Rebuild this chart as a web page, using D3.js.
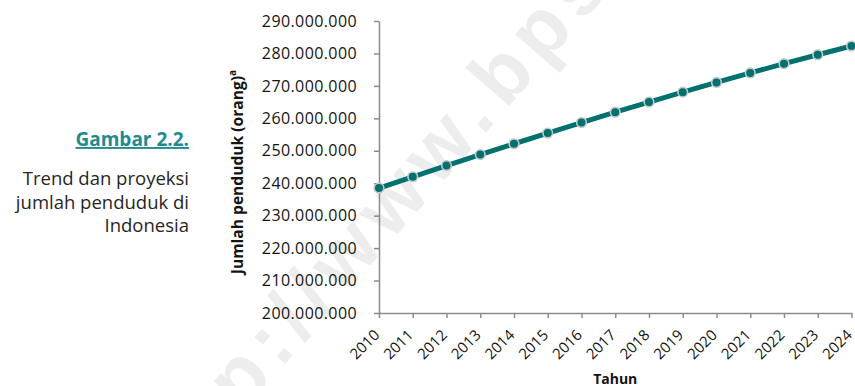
<!DOCTYPE html>
<html>
<head>
<meta charset="utf-8">
<script src="https://cdn.jsdelivr.net/npm/d3@7"></script>
<style>
  html, body { margin: 0; padding: 0; background: #fff; }
  svg { display: block; }
</style>
</head>
<body>
<svg id="chart" width="855" height="386"></svg>
<script>
// Population of Indonesia (people), 2010 census base and projection
const years = [2010, 2011, 2012, 2013, 2014, 2015, 2016, 2017, 2018, 2019, 2020, 2021, 2022, 2023, 2024];
const population = [
  238518800, 241990700, 245425200, 248818100, 252164800, 255461700, 258705000,
  261890900, 265015300, 268074600, 271066400, 273987600, 276835200, 279605600, 282295400
];
const yTicks = [200e6, 210e6, 220e6, 230e6, 240e6, 250e6, 260e6, 270e6, 280e6, 290e6];
const captionTitle = "Gambar 2.2.";
const captionLines = ["Trend dan proyeksi", "jumlah penduduk di", "Indonesia"];
const xTitle = "Tahun";
const yTitle = "Jumlah penduduk (orang)";
const watermarkHead = "http://www.";
const watermarkTail = "bps.go.id";

const TEAL = "#00716f";
const AXIS = "#8c8c8c";
const FONT = "'Open Sans', 'Noto Sans', sans-serif";

const svg = d3.select("#chart");

// Background watermark, pivoted on the dot before "bps"
const wm = svg.append("g")
  .attr("transform", "translate(503,113) rotate(-49)")
  .attr("font-family", "'Liberation Sans', Arial, sans-serif")
  .attr("font-weight", "bold")
  .attr("font-size", 80)
  .attr("letter-spacing", 9)
  .attr("fill", "#ededed");
wm.append("text").attr("text-anchor", "end").attr("x", 0).text(watermarkHead);
wm.append("text").attr("text-anchor", "start").attr("x", 4).text(watermarkTail);

// Scales
const x = d3.scaleLinear().domain([2010, 2024]).range([379, 851.5]);
const y = d3.scaleLinear().domain([200e6, 290e6]).range([313, 21]);

const idLocale = d3.formatLocale({ decimal: ",", thousands: ".", grouping: [3], currency: ["Rp", ""] });
const fmt = idLocale.format(",d");

// Y axis
const gy = svg.append("g")
  .attr("transform", `translate(${x.range()[0]},0)`)
  .call(d3.axisLeft(y).tickValues(yTicks).tickFormat(fmt).tickSize(5).tickSizeOuter(0).tickPadding(17));
gy.select(".domain").attr("stroke", AXIS).attr("stroke-width", 1.5);
gy.selectAll(".tick line").attr("stroke", AXIS).attr("stroke-width", 1.5);
gy.selectAll(".tick text")
  .attr("font-family", FONT).attr("font-size", 16).attr("fill", "#141414")
  .attr("letter-spacing", 0.4);

// X axis
const gx = svg.append("g")
  .attr("transform", `translate(0,${y.range()[0]})`)
  .call(d3.axisBottom(x).tickValues(years).tickFormat(d3.format("d")).tickSize(5).tickSizeOuter(0));
gx.select(".domain").attr("stroke", AXIS).attr("stroke-width", 1.5);
gx.selectAll(".tick line").attr("stroke", AXIS).attr("stroke-width", 1.5);
gx.selectAll(".tick text")
  .attr("font-family", FONT).attr("font-size", 15).attr("fill", "#141414")
  .attr("text-anchor", "end")
  .attr("x", 0).attr("y", 0).attr("dy", 0)
  .attr("transform", "translate(1,23) rotate(-45)");

// Axis titles
svg.append("text")
  .attr("x", (x.range()[0] + x.range()[1]) / 2).attr("y", 384)
  .attr("text-anchor", "middle")
  .attr("font-family", FONT).attr("font-weight", "bold").attr("font-size", 14)
  .attr("fill", "#141414")
  .text(xTitle);

const yt = svg.append("text")
  .attr("transform", "translate(243,172) rotate(-90)")
  .attr("text-anchor", "middle")
  .attr("font-family", FONT).attr("font-weight", "bold").attr("font-size", 15.6)
  .attr("fill", "#141414");
yt.append("tspan").text(yTitle);
yt.append("tspan").attr("font-size", 10).attr("dy", -7).text("a");

// Population line
const line = d3.line().x((d, i) => x(years[i])).y(d => y(d));
svg.append("path")
  .datum(population)
  .attr("d", line)
  .attr("fill", "none")
  .attr("stroke", TEAL)
  .attr("stroke-width", 5)
  .attr("stroke-linejoin", "round");

svg.append("g").selectAll("circle")
  .data(population)
  .join("circle")
  .attr("cx", (d, i) => x(years[i]))
  .attr("cy", d => y(d))
  .attr("r", 4.8)
  .attr("fill", TEAL)
  .attr("stroke", "#c4c8c8")
  .attr("stroke-width", 1.6);

// Figure caption on the left
const capRight = 189;
svg.append("text")
  .attr("x", capRight).attr("y", 146)
  .attr("text-anchor", "end")
  .attr("font-family", FONT).attr("font-weight", "bold").attr("font-size", 19)
  .attr("fill", "#1f8a90")
  .attr("text-decoration", "underline")
  .text(captionTitle);

svg.append("g").selectAll("text")
  .data(captionLines)
  .join("text")
  .attr("x", capRight)
  .attr("y", (d, i) => 185 + i * 23.5)
  .attr("text-anchor", "end")
  .attr("font-family", FONT).attr("font-size", 18.5)
  .attr("fill", "#262626")
  .text(d => d);
</script>
</body>
</html>
